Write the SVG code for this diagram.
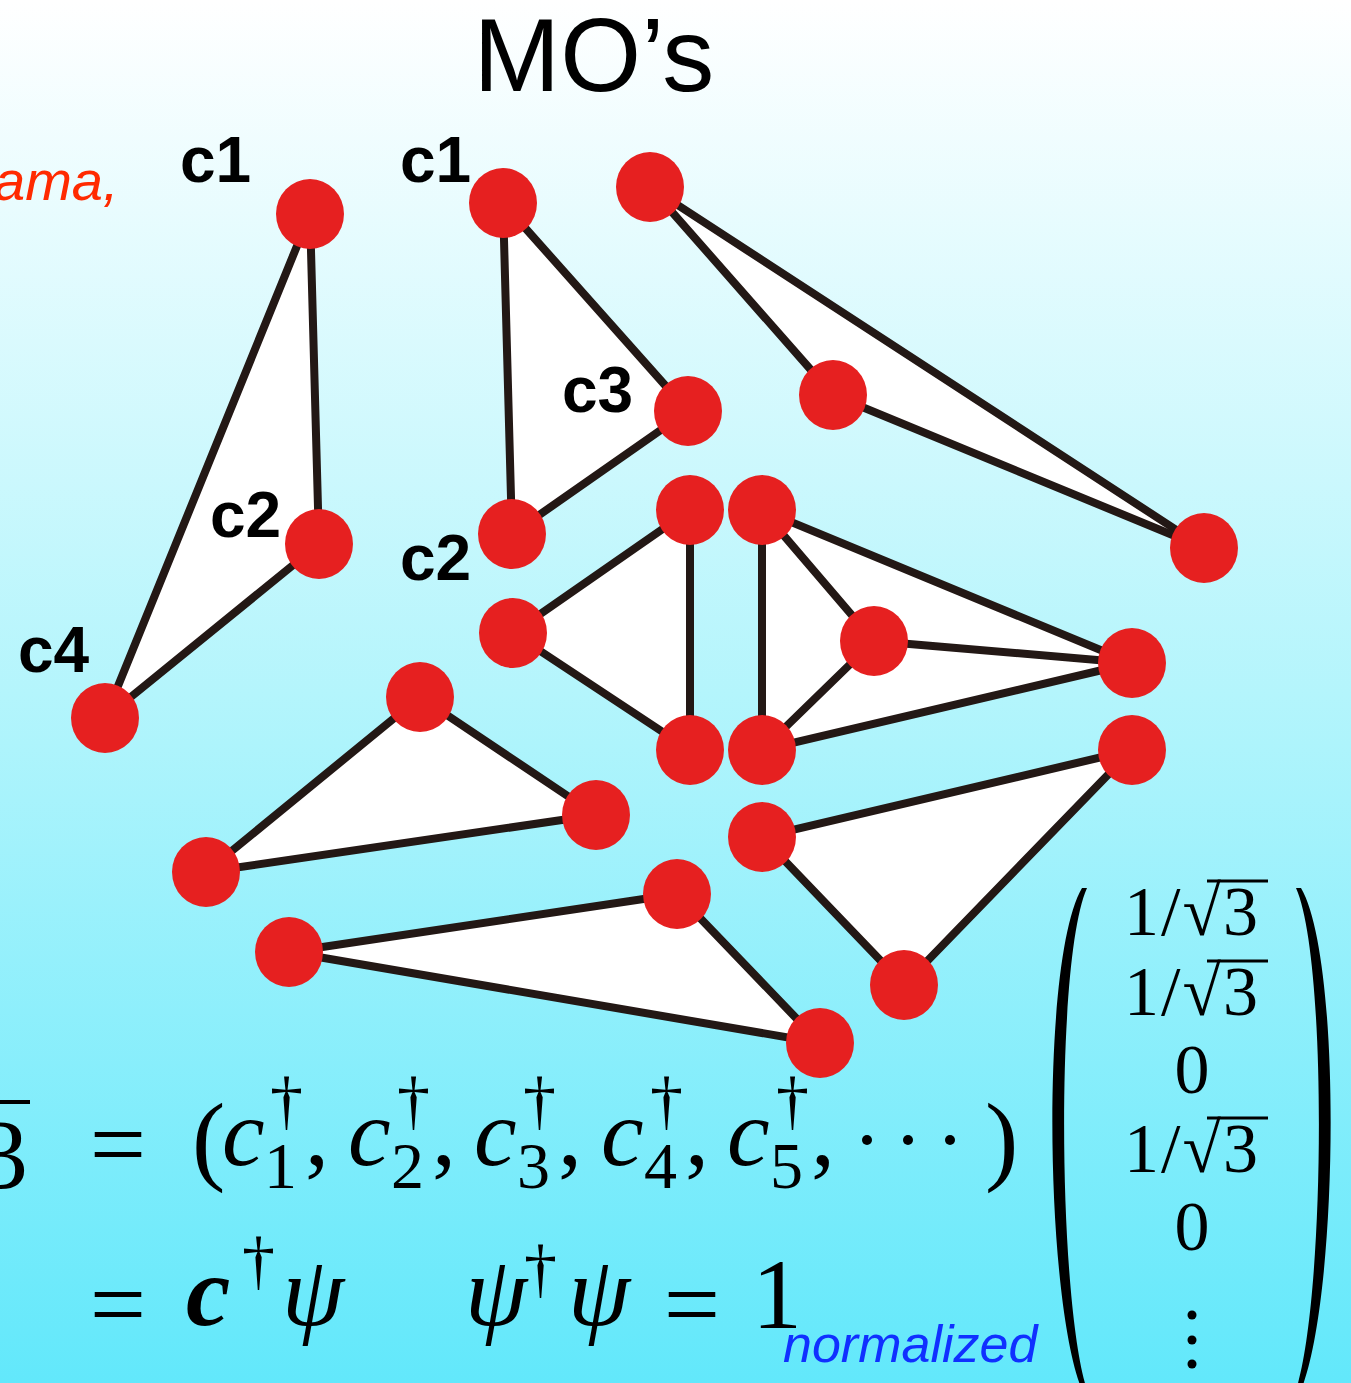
<svg xmlns="http://www.w3.org/2000/svg" width="1351" height="1383" viewBox="0 0 1351 1383">
<defs>
<linearGradient id="bg" x1="0" y1="0" x2="0" y2="1">
<stop offset="0" stop-color="#ffffff"/>
<stop offset="0.5" stop-color="#b4f5fc"/>
<stop offset="1" stop-color="#62e8fb"/>
</linearGradient>
<style>
.edge{stroke:#231815;stroke-width:8;fill:none;stroke-linecap:round}
.face{fill:#ffffff;stroke:none}
.node{fill:#e62020}
.lbl{font-family:"Liberation Sans",Arial,sans-serif;font-weight:bold;font-size:64px;fill:#000}
.m{font-family:"Liberation Serif","Times New Roman",serif;fill:#000}
.mi{font-family:"Liberation Serif","Times New Roman",serif;font-style:italic;fill:#000}
</style>
</defs>
<rect width="1351" height="1383" fill="url(#bg)"/>
<text x="594" y="91" text-anchor="middle" font-family="Liberation Sans, Arial, sans-serif" font-size="104" fill="#000">MO’s</text>
<text x="-6" y="200" font-family="Liberation Sans, Arial, sans-serif" font-style="italic" font-size="56" fill="#ff2a00">ama,</text>

<g id="faces">
<polygon class="face" points="310,214 319,544 105,718"/>
<polygon class="face" points="503,203 688,411 512,534"/>
<polygon class="face" points="650,187 833,395 1204,548"/>
<polygon class="face" points="690,510 513,633 690,750"/>
<polygon class="face" points="762,510 1132,663 762,750"/>
<polygon class="face" points="420,697 596,815 206,872"/>
<polygon class="face" points="1132,750 762,837 904,985"/>
<polygon class="face" points="677,894 289,952 820,1043"/>
</g>

<g id="connectors">
<line class="edge" x1="310" y1="214" x2="319" y2="544"/>
<line class="edge" x1="310" y1="214" x2="105" y2="718"/>
<line class="edge" x1="319" y1="544" x2="105" y2="718"/>

<line class="edge" x1="503" y1="203" x2="688" y2="411"/>
<line class="edge" x1="503" y1="203" x2="512" y2="534"/>
<line class="edge" x1="688" y1="411" x2="512" y2="534"/>

<line class="edge" x1="650" y1="187" x2="833" y2="395"/>
<line class="edge" x1="650" y1="187" x2="1204" y2="548"/>
<line class="edge" x1="833" y1="395" x2="1204" y2="548"/>

<line class="edge" x1="690" y1="510" x2="690" y2="750"/>
<line class="edge" x1="690" y1="510" x2="513" y2="633"/>
<line class="edge" x1="513" y1="633" x2="690" y2="750"/>

<line class="edge" x1="762" y1="510" x2="762" y2="750"/>
<line class="edge" x1="762" y1="510" x2="874" y2="641"/>
<line class="edge" x1="874" y1="641" x2="762" y2="750"/>
<line class="edge" x1="874" y1="641" x2="1132" y2="663"/>
<line class="edge" x1="762" y1="510" x2="1132" y2="663"/>
<line class="edge" x1="762" y1="750" x2="1132" y2="663"/>

<line class="edge" x1="420" y1="697" x2="596" y2="815"/>
<line class="edge" x1="420" y1="697" x2="206" y2="872"/>
<line class="edge" x1="596" y1="815" x2="206" y2="872"/>

<line class="edge" x1="1132" y1="750" x2="762" y2="837"/>
<line class="edge" x1="1132" y1="750" x2="904" y2="985"/>
<line class="edge" x1="762" y1="837" x2="904" y2="985"/>

<line class="edge" x1="677" y1="894" x2="289" y2="952"/>
<line class="edge" x1="677" y1="894" x2="820" y2="1043"/>
<line class="edge" x1="289" y1="952" x2="820" y2="1043"/>
</g>

<g id="n1"><ellipse class="node" cx="310" cy="214" rx="34" ry="35"/></g>
<g id="n2"><ellipse class="node" cx="319" cy="544" rx="34" ry="35"/></g>
<g id="n3"><ellipse class="node" cx="105" cy="718" rx="34" ry="35"/></g>
<g id="n4"><ellipse class="node" cx="503" cy="203" rx="34" ry="35"/></g>
<g id="n5"><ellipse class="node" cx="688" cy="411" rx="34" ry="35"/></g>
<g id="n6"><ellipse class="node" cx="512" cy="534" rx="34" ry="35"/></g>
<g id="n7"><ellipse class="node" cx="650" cy="187" rx="34" ry="35"/></g>
<g id="n8"><ellipse class="node" cx="833" cy="395" rx="34" ry="35"/></g>
<g id="n9"><ellipse class="node" cx="1204" cy="548" rx="34" ry="35"/></g>
<g id="n10"><ellipse class="node" cx="690" cy="510" rx="34" ry="35"/></g>
<g id="n11"><ellipse class="node" cx="513" cy="633" rx="34" ry="35"/></g>
<g id="n12"><ellipse class="node" cx="690" cy="750" rx="34" ry="35"/></g>
<g id="n13"><ellipse class="node" cx="762" cy="510" rx="34" ry="35"/></g>
<g id="n14"><ellipse class="node" cx="874" cy="641" rx="34" ry="35"/></g>
<g id="n15"><ellipse class="node" cx="762" cy="750" rx="34" ry="35"/></g>
<g id="n16"><ellipse class="node" cx="1132" cy="663" rx="34" ry="35"/></g>
<g id="n17"><ellipse class="node" cx="420" cy="697" rx="34" ry="35"/></g>
<g id="n18"><ellipse class="node" cx="596" cy="815" rx="34" ry="35"/></g>
<g id="n19"><ellipse class="node" cx="206" cy="872" rx="34" ry="35"/></g>
<g id="n20"><ellipse class="node" cx="1132" cy="750" rx="34" ry="35"/></g>
<g id="n21"><ellipse class="node" cx="762" cy="837" rx="34" ry="35"/></g>
<g id="n22"><ellipse class="node" cx="904" cy="985" rx="34" ry="35"/></g>
<g id="n23"><ellipse class="node" cx="677" cy="894" rx="34" ry="35"/></g>
<g id="n24"><ellipse class="node" cx="289" cy="952" rx="34" ry="35"/></g>
<g id="n25"><ellipse class="node" cx="820" cy="1043" rx="34" ry="35"/></g>

<g id="labels">
<text class="lbl" x="180" y="182">c1</text>
<text class="lbl" x="400" y="182">c1</text>
<text class="lbl" x="562" y="412">c3</text>
<text class="lbl" x="210" y="537">c2</text>
<text class="lbl" x="400" y="580">c2</text>
<text class="lbl" x="18" y="672">c4</text>
</g>

<g id="math">
<text class="m" x="-22" y="1188" font-size="100">3</text>
<line x1="0" y1="1102" x2="30" y2="1102" stroke="#000" stroke-width="4"/>
<text class="m" x="118" y="1178" font-size="100" text-anchor="middle">=</text>
<text class="m" x="192" y="1172" font-size="100">(</text>
<text class="mi" x="222" y="1165" font-size="96">c</text>
<text class="m" x="270" y="1122" font-size="66">†</text>
<text class="m" x="264" y="1188" font-size="66">1</text>
<text class="m" x="305" y="1165" font-size="96">,</text>
<text class="mi" x="348" y="1165" font-size="96">c</text>
<text class="m" x="397" y="1122" font-size="66">†</text>
<text class="m" x="391" y="1188" font-size="66">2</text>
<text class="m" x="432" y="1165" font-size="96">,</text>
<text class="mi" x="474" y="1165" font-size="96">c</text>
<text class="m" x="523" y="1122" font-size="66">†</text>
<text class="m" x="517" y="1188" font-size="66">3</text>
<text class="m" x="558" y="1165" font-size="96">,</text>
<text class="mi" x="601" y="1165" font-size="96">c</text>
<text class="m" x="650" y="1122" font-size="66">†</text>
<text class="m" x="644" y="1188" font-size="66">4</text>
<text class="m" x="685" y="1165" font-size="96">,</text>
<text class="mi" x="727" y="1165" font-size="96">c</text>
<text class="m" x="776" y="1122" font-size="66">†</text>
<text class="m" x="770" y="1188" font-size="66">5</text>
<text class="m" x="811" y="1165" font-size="96">,</text>
<circle cx="867" cy="1140" r="5"/>
<circle cx="908" cy="1140" r="5"/>
<circle cx="950" cy="1140" r="5"/>
<text class="m" x="985" y="1172" font-size="100">)</text>

<text class="m" x="118" y="1338" font-size="100" text-anchor="middle">=</text>
<text class="mi" x="186" y="1325" font-size="100" font-weight="bold">c</text>
<text class="m" x="242" y="1282" font-size="66">†</text>
<text class="mi" x="282" y="1325" font-size="100">ψ</text>
<text class="mi" x="465" y="1325" font-size="100">ψ</text>
<text class="m" x="524" y="1290" font-size="66">†</text>
<text class="mi" x="568" y="1325" font-size="100">ψ</text>
<text class="m" x="692" y="1338" font-size="100" text-anchor="middle">=</text>
<text class="m" x="752" y="1328" font-size="100">1</text>
<text x="783" y="1362" font-family="Liberation Sans, Arial, sans-serif" font-style="italic" font-size="52" fill="#1030ff">normalized</text>
</g>

<g id="matrix">
<path d="M1082,888 C1040,960 1045,1300 1082,1390 L1087,1390 C1058,1300 1055,960 1087,888 Z" fill="#000"/>
<path d="M1301,888 C1343,960 1338,1300 1301,1390 L1296,1390 C1325,1300 1328,960 1296,888 Z" fill="#000"/>
<g class="m" font-size="70" text-anchor="middle">
<text x="1192" y="935" letter-spacing="2">1/√3</text>
<text x="1192" y="1015" letter-spacing="2">1/√3</text>
<text x="1192" y="1093">0</text>
<text x="1192" y="1172" letter-spacing="2">1/√3</text>
<text x="1192" y="1250">0</text>
</g>
<line x1="1207" y1="881" x2="1268" y2="881" stroke="#000" stroke-width="3"/>
<line x1="1207" y1="961" x2="1268" y2="961" stroke="#000" stroke-width="3"/>
<line x1="1207" y1="1118" x2="1268" y2="1118" stroke="#000" stroke-width="3"/>
<circle cx="1192" cy="1315" r="4.5"/>
<circle cx="1192" cy="1340" r="4.5"/>
<circle cx="1192" cy="1364" r="4.5"/>
</g>
</svg>
